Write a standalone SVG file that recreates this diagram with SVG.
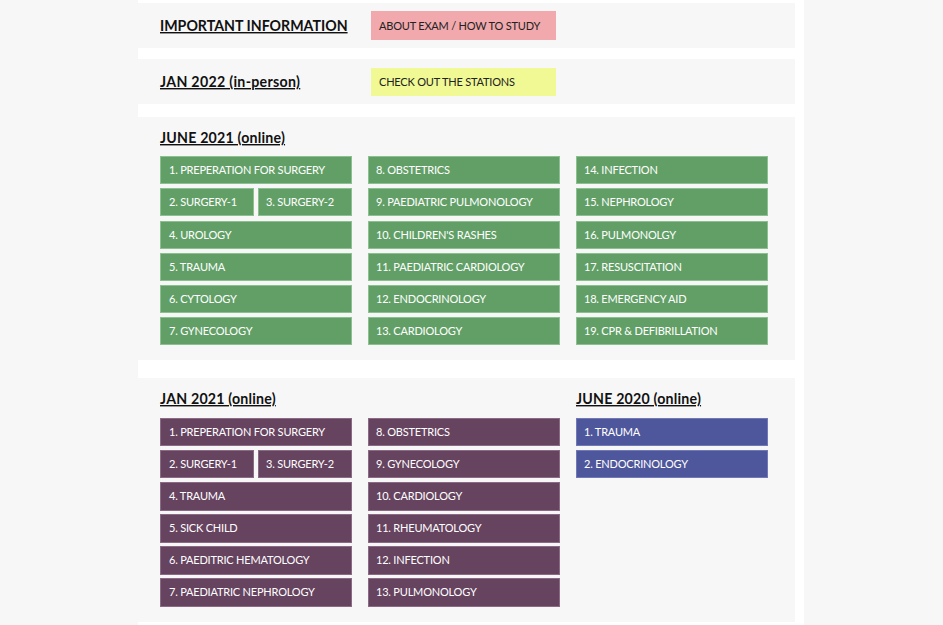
<svg xmlns="http://www.w3.org/2000/svg" width="943" height="625" viewBox="0 0 943 625">
<style>
.bg{fill:#f7f7f7}
.h{font-family:Lato,"Liberation Sans",sans-serif;font-weight:700;font-size:14.2px;fill:#111;text-decoration:underline}
.t{font-family:Lato,"Liberation Sans",sans-serif;font-weight:400;font-size:11px;letter-spacing:-0.2px;fill:#fff}
.d{font-family:Lato,"Liberation Sans",sans-serif;font-weight:400;font-size:11px;letter-spacing:-0.2px;fill:#222}
.g{fill:#629f67;stroke:#8cc090;stroke-width:1}
.p{fill:#66435f;stroke:#8a6a84;stroke-width:1}
.b{fill:#4f579c;stroke:#7078b8;stroke-width:1}
</style>
<rect x="0" y="0" width="943" height="625" class="bg"/>
<rect x="138" y="0" width="666" height="625" fill="#fff"/>
<rect x="138" y="3" width="657" height="45" class="bg"/>
<rect x="138" y="59" width="657" height="45" class="bg"/>
<rect x="138" y="117" width="657" height="243" class="bg"/>
<rect x="138" y="378" width="657" height="244" class="bg"/>

<g id="h-important"><text x="160" y="31" class="h">IMPORTANT INFORMATION</text></g>
<g id="n-about"><rect x="371" y="11" width="185" height="29" fill="#f1a9ad"/><text x="379" y="30" class="d">ABOUT EXAM / HOW TO STUDY</text></g>
<g id="h-jan2022"><text x="160" y="87" class="h" letter-spacing="0.3">JAN 2022 (in-person)</text></g>
<g id="n-stations"><rect x="371" y="68" width="185" height="28" fill="#f0f994"/><text x="379" y="86" class="d">CHECK OUT THE STATIONS</text></g>

<g id="h-june2021"><text x="160" y="143" class="h" letter-spacing="0.2">JUNE 2021 (online)</text></g>
<g id="june2021">
<g id="j21-1"><rect x="160.5" y="156.5" width="191" height="27" class="g"/><text x="169" y="174" class="t">1. PREPERATION FOR SURGERY</text></g>
<g id="j21-2"><rect x="160.5" y="188.5" width="93" height="27" class="g"/><text x="169" y="206" class="t">2. SURGERY-1</text></g>
<g id="j21-3"><rect x="258.5" y="188.5" width="93" height="27" class="g"/><text x="266" y="206" class="t">3. SURGERY-2</text></g>
<g id="j21-4"><rect x="160.5" y="221.5" width="191" height="27" class="g"/><text x="169" y="239" class="t">4. UROLOGY</text></g>
<g id="j21-5"><rect x="160.5" y="253.5" width="191" height="27" class="g"/><text x="169" y="271" class="t">5. TRAUMA</text></g>
<g id="j21-6"><rect x="160.5" y="285.5" width="191" height="27" class="g"/><text x="169" y="303" class="t">6. CYTOLOGY</text></g>
<g id="j21-7"><rect x="160.5" y="317.5" width="191" height="27" class="g"/><text x="169" y="335" class="t">7. GYNECOLOGY</text></g>
<g id="j21-8"><rect x="368.5" y="156.5" width="191" height="27" class="g"/><text x="376" y="174" class="t">8. OBSTETRICS</text></g>
<g id="j21-9"><rect x="368.5" y="188.5" width="191" height="27" class="g"/><text x="376" y="206" class="t">9. PAEDIATRIC PULMONOLOGY</text></g>
<g id="j21-10"><rect x="368.5" y="221.5" width="191" height="27" class="g"/><text x="376" y="239" class="t">10. CHILDREN'S RASHES</text></g>
<g id="j21-11"><rect x="368.5" y="253.5" width="191" height="27" class="g"/><text x="376" y="271" class="t">11. PAEDIATRIC CARDIOLOGY</text></g>
<g id="j21-12"><rect x="368.5" y="285.5" width="191" height="27" class="g"/><text x="376" y="303" class="t">12. ENDOCRINOLOGY</text></g>
<g id="j21-13"><rect x="368.5" y="317.5" width="191" height="27" class="g"/><text x="376" y="335" class="t">13. CARDIOLOGY</text></g>
<g id="j21-14"><rect x="576.5" y="156.5" width="191" height="27" class="g"/><text x="584" y="174" class="t">14. INFECTION</text></g>
<g id="j21-15"><rect x="576.5" y="188.5" width="191" height="27" class="g"/><text x="584" y="206" class="t">15. NEPHROLOGY</text></g>
<g id="j21-16"><rect x="576.5" y="221.5" width="191" height="27" class="g"/><text x="584" y="239" class="t">16. PULMONOLGY</text></g>
<g id="j21-17"><rect x="576.5" y="253.5" width="191" height="27" class="g"/><text x="584" y="271" class="t">17. RESUSCITATION</text></g>
<g id="j21-18"><rect x="576.5" y="285.5" width="191" height="27" class="g"/><text x="584" y="303" class="t">18. EMERGENCY AID</text></g>
<g id="j21-19"><rect x="576.5" y="317.5" width="191" height="27" class="g"/><text x="584" y="335" class="t">19. CPR &amp; DEFIBRILLATION</text></g>
</g>

<g id="h-jan2021"><text x="160" y="404" class="h" letter-spacing="0.2">JAN 2021 (online)</text></g>
<g id="jan2021">
<g id="ja21-1"><rect x="160.5" y="418.5" width="191" height="27" class="p"/><text x="169" y="436" class="t">1. PREPERATION FOR SURGERY</text></g>
<g id="ja21-2"><rect x="160.5" y="450.5" width="93" height="27" class="p"/><text x="169" y="468" class="t">2. SURGERY-1</text></g>
<g id="ja21-3"><rect x="258.5" y="450.5" width="93" height="27" class="p"/><text x="266" y="468" class="t">3. SURGERY-2</text></g>
<g id="ja21-4"><rect x="160.5" y="482.5" width="191" height="28" class="p"/><text x="169" y="500" class="t">4. TRAUMA</text></g>
<g id="ja21-5"><rect x="160.5" y="514.5" width="191" height="28" class="p"/><text x="169" y="532" class="t">5. SICK CHILD</text></g>
<g id="ja21-6"><rect x="160.5" y="546.5" width="191" height="28" class="p"/><text x="169" y="564" class="t">6. PAEDITRIC HEMATOLOGY</text></g>
<g id="ja21-7"><rect x="160.5" y="578.5" width="191" height="28" class="p"/><text x="169" y="596" class="t">7. PAEDIATRIC NEPHROLOGY</text></g>
<g id="ja21-8"><rect x="368.5" y="418.5" width="191" height="27" class="p"/><text x="376" y="436" class="t">8. OBSTETRICS</text></g>
<g id="ja21-9"><rect x="368.5" y="450.5" width="191" height="27" class="p"/><text x="376" y="468" class="t">9. GYNECOLOGY</text></g>
<g id="ja21-10"><rect x="368.5" y="482.5" width="191" height="28" class="p"/><text x="376" y="500" class="t">10. CARDIOLOGY</text></g>
<g id="ja21-11"><rect x="368.5" y="514.5" width="191" height="28" class="p"/><text x="376" y="532" class="t">11. RHEUMATOLOGY</text></g>
<g id="ja21-12"><rect x="368.5" y="546.5" width="191" height="28" class="p"/><text x="376" y="564" class="t">12. INFECTION</text></g>
<g id="ja21-13"><rect x="368.5" y="578.5" width="191" height="28" class="p"/><text x="376" y="596" class="t">13. PULMONOLOGY</text></g>
</g>

<g id="h-june2020"><text x="576" y="404" class="h" letter-spacing="0.2">JUNE 2020 (online)</text></g>
<g id="june2020">
<g id="j20-1"><rect x="576.5" y="418.5" width="191" height="27" class="b"/><text x="584" y="436" class="t">1. TRAUMA</text></g>
<g id="j20-2"><rect x="576.5" y="450.5" width="191" height="27" class="b"/><text x="584" y="468" class="t">2. ENDOCRINOLOGY</text></g>
</g>
<g id="connectors"/>
</svg>
